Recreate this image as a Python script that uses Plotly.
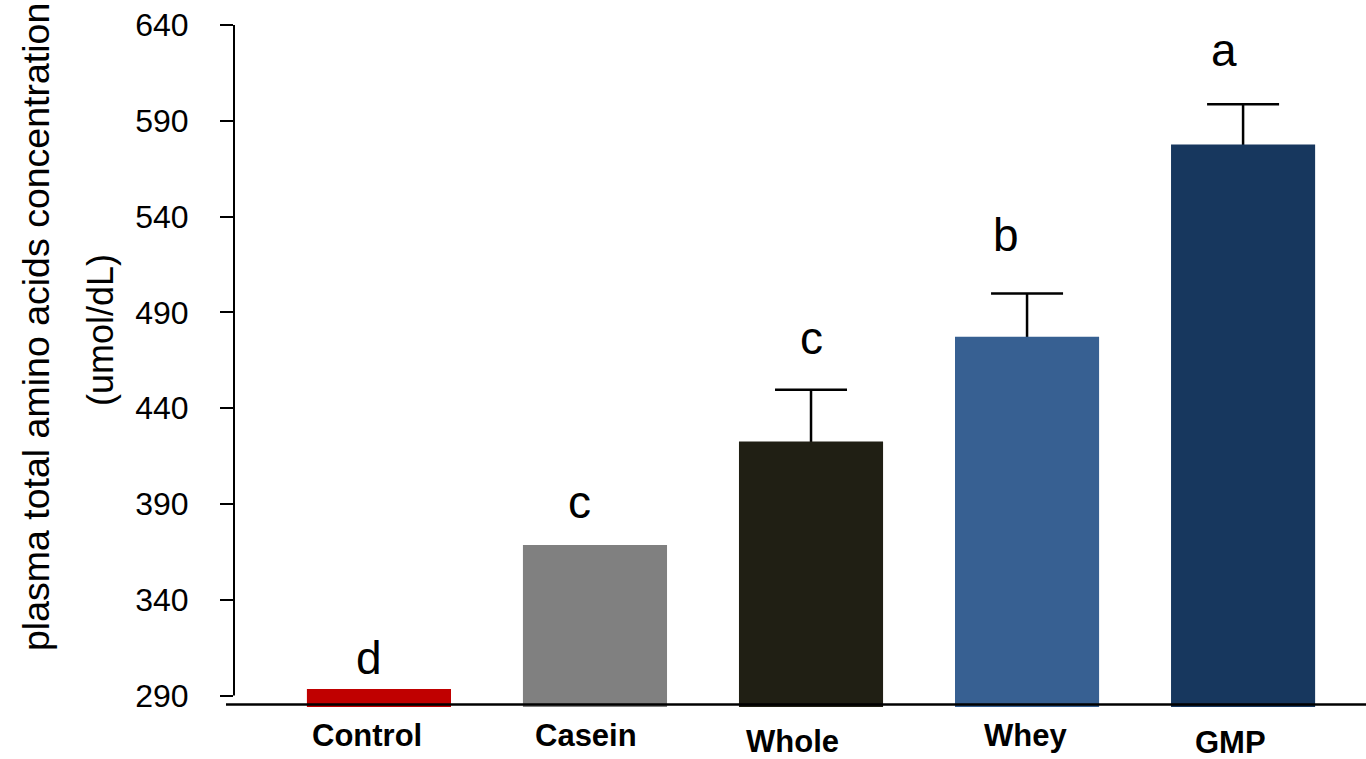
import plotly.graph_objects as go

# Plasma total amino acid concentration by diet group
groups = ["Control", "Casein", "Whole", "Whey", "GMP"]
means = [293.4, 368.6, 422.6, 477.3, 577.6]
sem = [None, None, 27.0, 22.5, 21.0]
letters = ["d", "c", "c", "b", "a"]
colors = ["#C00000", "#808080", "#201F14", "#376092", "#17375E"]

y_ticks = [290, 340, 390, 440, 490, 540, 590, 640]
bar_base = 284

FONT = "Liberation Sans, Arial, sans-serif"
BAR_WIDTH = 0.667

fig = go.Figure()

# error whiskers (upper only): drawn with a transparent bar underneath the
# real bars so the lower end of each whisker is hidden inside its bar
err_idx = [i for i, e in enumerate(sem) if e is not None]
fig.add_trace(go.Bar(
    x=[groups[i] for i in err_idx],
    y=[means[i] - bar_base for i in err_idx],
    base=bar_base,
    width=BAR_WIDTH,
    marker=dict(color="rgba(0,0,0,0)", line=dict(width=0)),
    error_y=dict(
        type="data",
        symmetric=False,
        array=[sem[i] for i in err_idx],
        arrayminus=[3] * len(err_idx),
        color="black",
        thickness=2.5,
        width=36,
    ),
    showlegend=False,
    hoverinfo="skip",
))

fig.add_trace(go.Bar(
    x=groups,
    y=[m - bar_base for m in means],
    base=bar_base,
    width=BAR_WIDTH,
    marker=dict(color=colors, line=dict(width=0)),
    showlegend=False,
))

# significance letters above each bar
letter_lift = [31, 43, 52, 59, 54]
letter_dx = [-10, -15, 0, -21, -19]
for g, m, e, t, lift, dx in zip(groups, means, sem, letters, letter_lift, letter_dx):
    top = m + (e or 0)
    fig.add_annotation(
        x=g, y=top, xref="x", yref="y", text=t, showarrow=False,
        xanchor="center", yanchor="middle", yshift=lift, xshift=dx,
        font=dict(family=FONT, size=46, color="black"),
    )

# category labels below the axis
cat_dx = [-12, -9, -19, -2, -13]
cat_dy = [-26, -26, -32, -26, -33]
for g, dx, dy in zip(groups, cat_dx, cat_dy):
    fig.add_annotation(
        x=g, y=0, xref="x", yref="paper", text=f"<b>{g}</b>", showarrow=False,
        xanchor="center", yanchor="middle", xshift=dx, yshift=dy,
        font=dict(family=FONT, size=31, color="black"),
    )

# y-axis title in two lines
fig.add_annotation(
    x=0, y=0.5585, xref="paper", yref="paper",
    text="plasma total amino acids concentration", textangle=-90,
    showarrow=False, xanchor="center", yanchor="middle", xshift=-198,
    font=dict(family=FONT, size=37.5, color="black"),
)
fig.add_annotation(
    x=0, y=0.554, xref="paper", yref="paper",
    text="(umol/dL)", textangle=-90,
    showarrow=False, xanchor="center", yanchor="middle", xshift=-134,
    font=dict(family=FONT, size=36, color="black"),
)

# axis lines
fig.add_shape(type="line", xref="paper", yref="y", x0=0, x1=0, y0=290, y1=640,
              line=dict(color="black", width=2))
fig.add_shape(type="line", xref="paper", yref="y", x0=-0.00707, x1=1, y0=285.3, y1=285.3,
              line=dict(color="black", width=2.5), layer="above")

fig.update_layout(
    width=1366, height=759,
    margin=dict(l=234, r=0, t=25, b=50),
    paper_bgcolor="white", plot_bgcolor="white",
    barmode="overlay",
    xaxis=dict(
        type="category", categoryorder="array", categoryarray=groups,
        range=[-0.671, 4.569],
        showticklabels=False, ticks="", showline=False, showgrid=False, zeroline=False,
    ),
    yaxis=dict(
        range=[283, 640], tickvals=y_ticks, ticktext=[str(v) for v in y_ticks],
        ticks="outside", ticklen=13, tickwidth=2, tickcolor="black",
        showline=False, showgrid=False, zeroline=False,
        ticklabelstandoff=25,
        tickfont=dict(family=FONT, size=32, color="black"),
    ),
)

fig.write_html("out.html")
